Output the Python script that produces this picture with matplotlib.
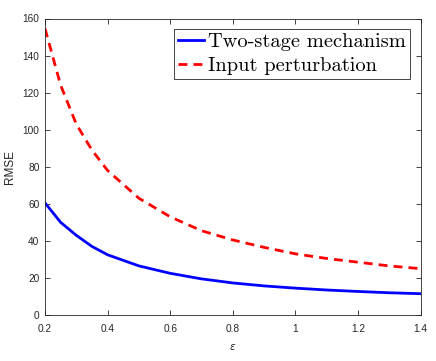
import matplotlib
matplotlib.use("Agg")
import matplotlib.pyplot as plt

eps = [0.2, 0.25, 0.3, 0.35, 0.4, 0.5, 0.6, 0.7, 0.8, 0.9, 1.0, 1.1, 1.2, 1.3, 1.4]
two_stage = [60.5, 50, 43, 37, 32.5, 26.5, 22.5, 19.5, 17.3, 15.7, 14.5, 13.5, 12.7, 12.0, 11.5]
input_pert = [154.6, 124, 103, 89, 78, 63, 53, 45.5, 40.5, 36.5, 33, 30.5, 28.5, 26.5, 25]
xticks = [0.2, 0.4, 0.6, 0.8, 1.0, 1.2, 1.4]
xticklabels = ["0.2", "0.4", "0.6", "0.8", "1", "1.2", "1.4"]
yticks = [0, 20, 40, 60, 80, 100, 120, 140, 160]

plt.rcParams['font.family'] = ['Liberation Sans', 'DejaVu Sans']
fig = plt.figure(figsize=(4.36, 3.61), dpi=100)
ax = fig.add_axes([45/436, 1 - 315/361, 375.5/436, 296.5/361])

ax.plot(eps, two_stage, color='#0000ff', lw=2.0, label='Two-stage mechanism')
ax.plot(eps, input_pert, color='#ff0000', lw=2.0, ls=(0, (3.2, 2.2)), label='Input perturbation')

ax.set_xlim(0.2, 1.4)
ax.set_ylim(0, 160)
ax.set_xticks(xticks)
ax.set_xticklabels(xticklabels)
ax.set_yticks(yticks)
c = '#262626'
ax.tick_params(direction='in', top=True, right=True, length=3.5, width=0.6,
               labelsize=7.3, colors=c)
ax.tick_params(axis='x', pad=6.5)
ax.tick_params(axis='y', pad=4)
for s in ax.spines.values():
    s.set_color(c)
    s.set_linewidth(0.6)
ax.set_xlabel(r'$\epsilon$', fontsize=7.5, color=c)
ax.xaxis.set_label_coords(0.5, -(342 - 315) / 296.5, transform=ax.transAxes)
ax.set_ylabel('RMSE', fontsize=8.5, color=c)
ax.yaxis.set_label_coords(-(45 - 16) / 375.5, 0.5, transform=ax.transAxes)

leg = ax.legend(loc='upper right', prop={'family': 'cmr10', 'size': 14.7},
                frameon=True, fancybox=False, edgecolor=c, framealpha=1,
                borderpad=0.2, handlelength=1.3, handletextpad=0.2,
                labelspacing=0.28, borderaxespad=0.5)
leg.get_frame().set_linewidth(0.6)

fig.savefig('out.png', dpi=100)
